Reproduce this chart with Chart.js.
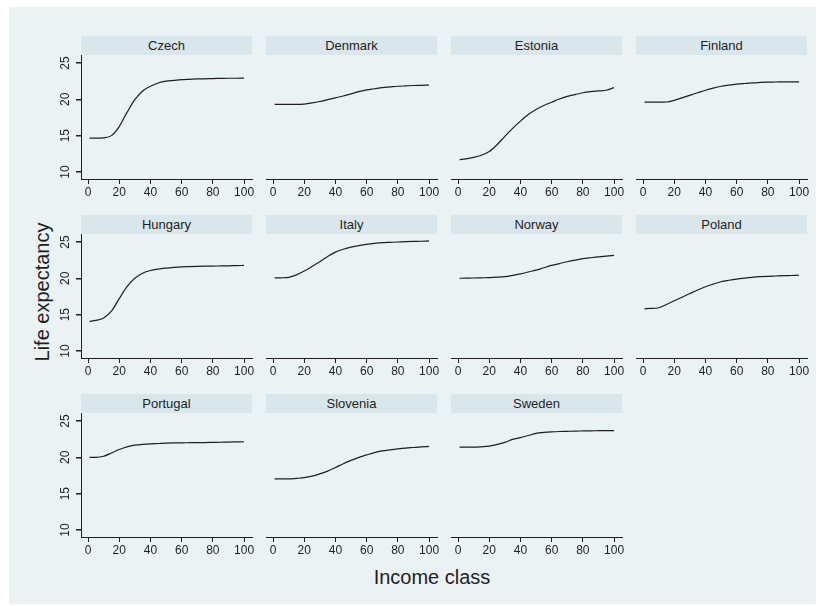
<!DOCTYPE html>
<html>
<head>
<meta charset="utf-8">
<script src="https://cdn.jsdelivr.net/npm/chart.js@4/dist/chart.umd.min.js"></script>
<style>
    body { margin: 0; background: #fff; font-family: "Liberation Sans", Arial, sans-serif; }
    #graph { position: absolute; left: 9px; top: 7px; width: 807px; height: 597px; background: #eaf2f3; }
    .strip { position: absolute; height: 19px; line-height: 19px; background: #d9e6eb; text-align: center; font-size: 13px; color: #1e1e1e; }
    .panel { position: absolute; }
    .title { position: absolute; font-size: 20px; color: #1e1e1e; white-space: nowrap; }
</style>
</head>
<body>
<div id="graph"></div>
<div class="title" id="ytitle">Life expectancy</div>
<div class="title" id="xtitle">Income class</div>
<script>
// income class grid points
const incomeClass = [1, 5, 10, 15, 20, 25, 30, 35, 40, 45, 50, 55, 60, 65, 70, 75, 80, 85, 90, 95, 100];

const countries = ['Czech', 'Denmark', 'Estonia', 'Finland', 'Hungary', 'Italy', 'Norway', 'Poland', 'Portugal', 'Slovenia', 'Sweden'];

const czech    = [14.65, 14.65, 14.7, 15.0, 16.25, 18.2, 19.95, 21.15, 21.8, 22.25, 22.5, 22.6, 22.7, 22.75, 22.8, 22.82, 22.86, 22.88, 22.9, 22.9, 22.92];
const denmark  = [19.3, 19.3, 19.3, 19.3, 19.35, 19.5, 19.7, 19.95, 20.2, 20.45, 20.75, 21.05, 21.3, 21.45, 21.6, 21.7, 21.8, 21.85, 21.9, 21.92, 21.95];
const estonia  = [11.7, 11.8, 12.0, 12.3, 12.8, 13.75, 14.9, 16.0, 17.0, 17.9, 18.6, 19.15, 19.6, 20.05, 20.4, 20.65, 20.9, 21.05, 21.15, 21.25, 21.6];
const finland  = [19.6, 19.6, 19.6, 19.63, 19.86, 20.2, 20.55, 20.9, 21.25, 21.55, 21.8, 21.95, 22.08, 22.18, 22.27, 22.32, 22.36, 22.38, 22.4, 22.4, 22.4];
const hungary  = [14.08, 14.2, 14.55, 15.48, 17.2, 18.84, 20.0, 20.7, 21.07, 21.27, 21.4, 21.5, 21.58, 21.62, 21.65, 21.67, 21.68, 21.7, 21.72, 21.75, 21.77];
const italy    = [20.05, 20.07, 20.14, 20.47, 21.0, 21.63, 22.28, 23.0, 23.6, 24.0, 24.3, 24.5, 24.67, 24.8, 24.9, 24.95, 25.0, 25.05, 25.08, 25.1, 25.14];
const norway   = [20.0, 20.02, 20.04, 20.07, 20.1, 20.15, 20.23, 20.4, 20.6, 20.87, 21.13, 21.45, 21.77, 22.03, 22.28, 22.5, 22.7, 22.83, 22.94, 23.05, 23.17];
const poland   = [15.8, 15.85, 15.95, 16.4, 16.9, 17.4, 17.9, 18.4, 18.84, 19.2, 19.53, 19.73, 19.9, 20.03, 20.14, 20.22, 20.28, 20.32, 20.36, 20.39, 20.42];
const portugal = [20.0, 20.0, 20.14, 20.6, 21.07, 21.44, 21.67, 21.78, 21.86, 21.9, 21.95, 21.98, 22.0, 22.01, 22.02, 22.03, 22.05, 22.07, 22.1, 22.12, 22.14];
const slovenia = [17.02, 17.02, 17.02, 17.1, 17.2, 17.4, 17.72, 18.1, 18.6, 19.12, 19.58, 20.0, 20.33, 20.65, 20.88, 21.03, 21.16, 21.27, 21.35, 21.43, 21.5];
const sweden   = [21.4, 21.4, 21.4, 21.45, 21.53, 21.77, 22.05, 22.47, 22.7, 23.0, 23.3, 23.42, 23.5, 23.55, 23.58, 23.61, 23.63, 23.65, 23.66, 23.67, 23.67];

const series = [czech, denmark, estonia, finland, hungary, italy, norway, poland, portugal, slovenia, sweden];

const xTicks = [0, 20, 40, 60, 80, 100];
const yTicks = [10, 15, 20, 25];

// panel grid geometry (px)
const colLeft = [81, 266, 451, 636];
const rowTop = [55, 234, 413];
const plotW = 171, plotH = 124, stripH = 19;
const yAxisW = 24, xAxisH = 26, padRight = 10;

const ink = '#1e1e1e';
const gridColor = '#eaf2f3';

// Stata-style vertical y tick labels
const verticalYLabels = {
    id: 'verticalYLabels',
    afterDraw(chart, args, opts) {
        if (!opts.show) return;
        const ctx = chart.ctx;
        const y = chart.scales.y;
        ctx.save();
        ctx.font = '12px "Liberation Sans", Arial, sans-serif';
        ctx.fillStyle = ink;
        ctx.textAlign = 'center';
        ctx.textBaseline = 'middle';
        yTicks.forEach(v => {
            ctx.save();
            ctx.translate(chart.chartArea.left - 15, y.getPixelForValue(v));
            ctx.rotate(-Math.PI / 2);
            ctx.fillText(String(v), 0, 0);
            ctx.restore();
        });
        ctx.restore();
    }
};

countries.forEach((name, i) => {
    const col = i % 4, row = Math.floor(i / 4);
    const first = col === 0;
    const leftW = first ? yAxisW : 0;

    const strip = document.createElement('div');
    strip.className = 'strip';
    strip.style.left = colLeft[col] + 'px';
    strip.style.top = (rowTop[row] - stripH) + 'px';
    strip.style.width = plotW + 'px';
    strip.textContent = name;
    document.body.appendChild(strip);

    const box = document.createElement('div');
    box.className = 'panel';
    box.style.left = (colLeft[col] - leftW) + 'px';
    box.style.top = rowTop[row] + 'px';
    box.style.width = (leftW + plotW + padRight) + 'px';
    box.style.height = (plotH + xAxisH) + 'px';
    const canvas = document.createElement('canvas');
    box.appendChild(canvas);
    document.body.appendChild(box);

    new Chart(canvas.getContext('2d'), {
        type: 'line',
        data: {
            datasets: [{
                data: incomeClass.map((x, k) => ({ x: x, y: series[i][k] })),
                borderColor: ink,
                borderWidth: 1.2,
                pointRadius: 0,
                cubicInterpolationMode: 'monotone',
                fill: false
            }]
        },
        options: {
            responsive: true,
            maintainAspectRatio: false,
            animation: false,
            events: [],
            layout: { padding: { left: 0, right: padRight, top: 0, bottom: 0 } },
            plugins: {
                legend: { display: false },
                tooltip: { enabled: false },
                verticalYLabels: { show: first }
            },
            scales: {
                x: {
                    type: 'linear',
                    min: -4.5,
                    max: 105.1,
                    afterBuildTicks: s => { s.ticks = xTicks.map(v => ({ value: v })); },
                    afterFit: s => { s.height = xAxisH; },
                    grid: { drawOnChartArea: false, drawTicks: true, tickLength: 5, tickColor: ink },
                    border: { display: true, color: ink, width: 1 },
                    ticks: {
                        autoSkip: false,
                        maxRotation: 0,
                        padding: 1,
                        color: ink,
                        font: { family: '"Liberation Sans", Arial, sans-serif', size: 12 }
                    }
                },
                y: {
                    min: 9.03,
                    max: 26.1,
                    afterBuildTicks: s => { s.ticks = yTicks.map(v => ({ value: v })); },
                    afterFit: s => { s.width = leftW; },
                    grid: {
                        color: gridColor,
                        lineWidth: 1.5,
                        drawTicks: first,
                        tickLength: 5,
                        tickColor: ink
                    },
                    border: { display: first, color: ink, width: 1 },
                    ticks: { display: false }
                }
            }
        },
        plugins: [verticalYLabels]
    });
});

// axis titles
const yt = document.getElementById('ytitle');
yt.style.left = '42px';
yt.style.top = '292px';
yt.style.transform = 'translate(-50%, -50%) rotate(-90deg)';
const xt = document.getElementById('xtitle');
xt.style.left = '432px';
xt.style.top = '577px';
xt.style.transform = 'translate(-50%, -50%)';
</script>
</body>
</html>
